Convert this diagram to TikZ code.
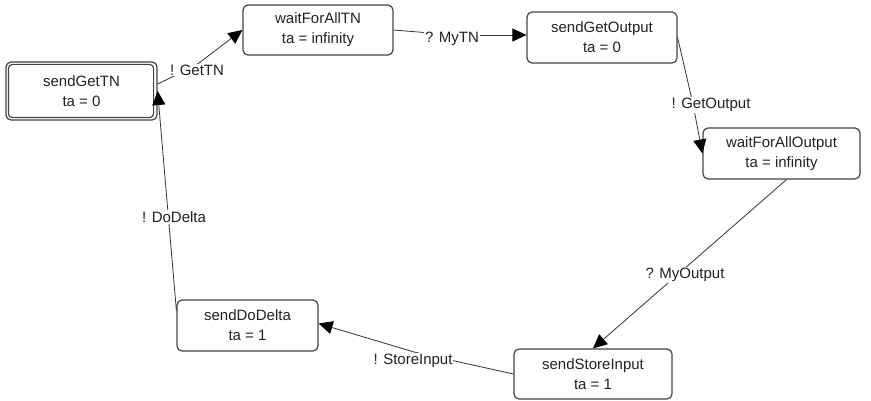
\documentclass[tikz,border=0pt]{standalone}
\usepackage{fontspec}
\setmainfont{Liberation Sans}
\usetikzlibrary{arrows.meta}
\definecolor{boxline}{HTML}{444444}
\definecolor{edgeline}{HTML}{333333}
\definecolor{txt}{HTML}{222222}
\begin{document}
\begin{tikzpicture}[x=1pt,y=-1pt,
  state/.style={draw=boxline, line width=1.2pt, rounded corners=5pt, inner sep=0pt,
    align=center, text=txt, font=\fontsize{15}{20}\selectfont},
  lbl/.style={fill=white, inner sep=1pt, text=txt, font=\fontsize{15}{18}\selectfont},
  conn/.style={draw=edgeline, line width=0.8pt},
  arr/.style={conn, -{Triangle[length=14pt,width=13pt,color=black]}}
]
\useasboundingbox (0,0) rectangle (871,401);
% states
\node[state, minimum width=151pt, minimum height=58pt] (sendGetTN) at (81.5,91) {sendGetTN\\ta = 0};
\draw[draw=boxline, line width=1.2pt, rounded corners=4pt]
  ([shift={(3,3)}]sendGetTN.north west) rectangle ([shift={(-4,-3)}]sendGetTN.south east);
\node[state, minimum width=150pt, minimum height=50pt] (waitForAllTN) at (318,30) {waitForAllTN\\ta = infinity};
\node[state, minimum width=150pt, minimum height=51pt] (sendGetOutput) at (602,37.5) {sendGetOutput\\ta = 0};
\node[state, minimum width=157pt, minimum height=51pt] (waitForAllOutput) at (781.5,153.5) {waitForAllOutput\\ta = infinity};
\node[state, minimum width=158pt, minimum height=50pt] (sendStoreInput) at (593,374) {sendStoreInput\\ta = 1};
\node[state, minimum width=141pt, minimum height=51pt] (sendDoDelta) at (247.5,325.5) {sendDoDelta\\ta = 1};
% bend points
\coordinate (b1) at (195,66);
\coordinate (b2) at (455,35);
\coordinate (b3) at (693,104);
\coordinate (b5) at (414,352);
% connectors
\draw[conn] ([shift={(0,-7)}]sendGetTN.east) -- (b1);
\draw[arr] (b1) -- (waitForAllTN.west);
\draw[conn] (waitForAllTN.east) -- (b2);
\draw[arr] (b2) -- ([shift={(0,-2.5)}]sendGetOutput.west);
\draw[conn] (sendGetOutput.east) -- (b3);
\draw[arr] (b3) -- (waitForAllOutput.west);
\draw[arr] ([shift={(5,0)}]waitForAllOutput.south) -- (sendStoreInput.north);
\draw[conn] (sendStoreInput.west) -- (b5);
\draw[arr] (b5) -- ([shift={(0,-2)}]sendDoDelta.east);
\draw[arr] ([shift={(0,-15)}]sendDoDelta.west) -- (sendGetTN.east);
% labels
\node[lbl] (lGetTN) at (197,70) {! GetTN};
\node[lbl] (lMyTN) at (452,39) {? MyTN};
\node[lbl] (lGetOutput) at (711,105) {! GetOutput};
\node[lbl] (lMyOutput) at (685,275) {? MyOutput};
\node[lbl] (lStoreInput) at (413,361) {! StoreInput};
\node[lbl] (lDoDelta) at (174,217) {! DoDelta};
\end{tikzpicture}
\end{document}
